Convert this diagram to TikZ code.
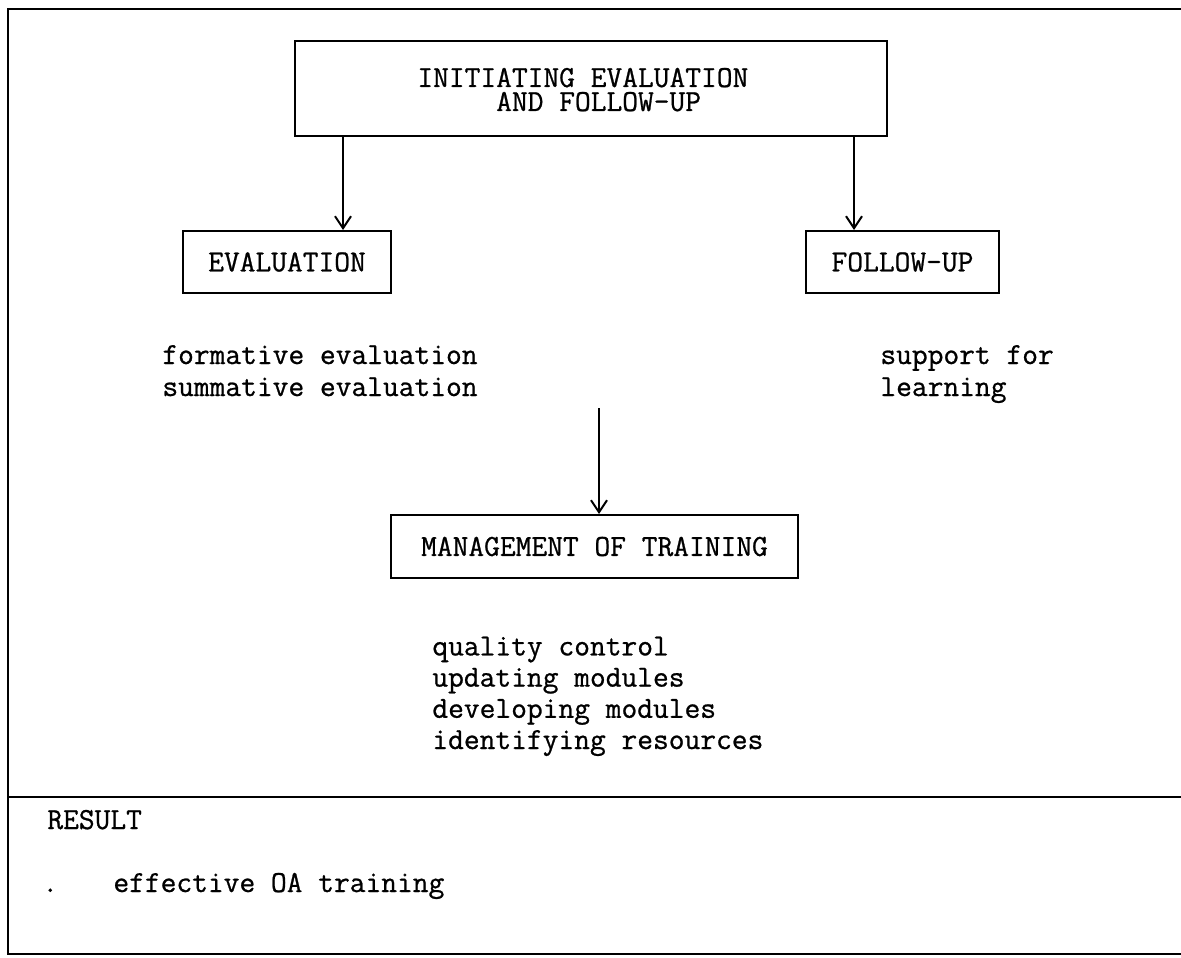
\documentclass[tikz,border=0pt]{standalone}
\usepackage{fontspec}
\newfontfamily\typewriter[FakeBold=0.8]{Latin Modern Mono}
\usetikzlibrary{arrows.meta}

\tikzset{
  rule/.style={line width=1pt, black},
  box/.style={draw, line width=1pt, rectangle, inner sep=0pt, align=center,
    font=\typewriter\fontsize{15.3pt}{16pt}\selectfont},
  txt/.style={inner sep=0pt, anchor=base west,
    font=\typewriter\fontsize{15.3pt}{16pt}\selectfont},
  flow/.style={line width=1pt, -{Straight Barb[length=6pt,width=8pt,line width=1pt]}}
}

\begin{document}
\begin{tikzpicture}[x=0.5pt, y=-0.5pt]
  \useasboundingbox (0,0) rectangle (1181,957);

  % page frame with the result panel below the divider
  \draw[rule] (1181,9) -- (8,9) -- (8,954) -- (1181,954);
  \draw[rule] (8,797) -- (1181,797);

  % top box and its two-line title (anchored on the last line's baseline)
  \node[box, minimum width=592pt*0.5, minimum height=95pt*0.5] (top) at (591,88.5) {};
  \node[txt, align=left, font=\typewriter\fontsize{15.3pt}{12pt}\selectfont] (topa) at (417,111)
    {INITIATING EVALUATION\\\hphantom{XXXXX}AND FOLLOW-UP};

  % second level
  \node[box, minimum width=208pt*0.5, minimum height=62pt*0.5] (eval) at (287,262) {EVALUATION};
  \node[box, minimum width=193pt*0.5, minimum height=62pt*0.5] (follow) at (902.5,262) {FOLLOW-UP};

  \node[txt, align=left] (f1) at (162,396)
    {formative evaluation\\summative evaluation};
  \node[txt, align=left] (s1) at (880,396)
    {support for\\learning};

  % management
  \node[box, minimum width=407pt*0.5, minimum height=63pt*0.5] (mgmt) at (594.5,546.5) {MANAGEMENT OF TRAINING};
  \node[txt, align=left, font=\typewriter\fontsize{15.3pt}{15.6pt}\selectfont] (m1) at (432,749)
    {quality control\\updating modules\\developing modules\\identifying resources};

  % result panel
  \node[txt] (res) at (47,829) {RESULT};
  \node[txt] (dot) at (42,892) {.};
  \node[txt] (r1) at (113,892) {effective OA training};

  % connectors
  \coordinate (colL) at (343,0);
  \coordinate (colR) at (854,0);
  \coordinate (mid) at (599,408);
  \draw[flow] (colL |- top.south) -- (colL |- eval.north);
  \draw[flow] (colR |- top.south) -- (colR |- follow.north);
  \draw[flow] (mid) -- (mid |- mgmt.north);
\end{tikzpicture}
\end{document}
